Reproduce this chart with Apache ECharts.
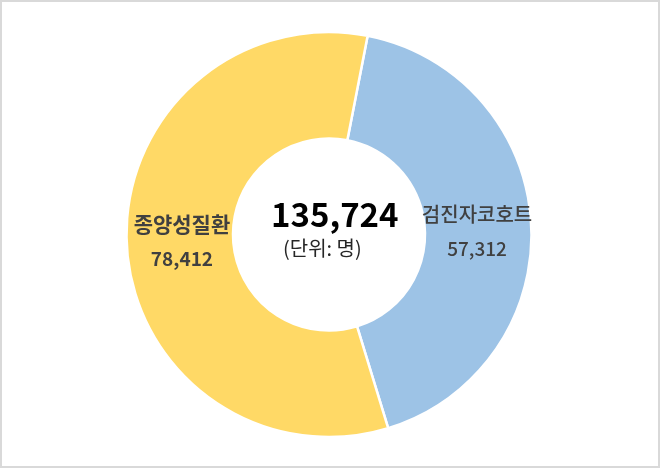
<!DOCTYPE html>
<html>
<head>
<meta charset="utf-8">
<script src="https://cdn.jsdelivr.net/npm/echarts@6/dist/echarts.min.js"></script>
<style>
  html, body { margin: 0; padding: 0; background: #fff; }
  #chart0 { width: 660px; height: 468px; box-sizing: border-box; border: 2px solid #d9d9d9; }
</style>
</head>
<body>
<div id="chart0"></div>
<script>
var categories = ['검진자코호트', '종양성질환'];
var values = [57312, 78412];
var colors = ['#9dc3e6', '#ffd966'];
var weights = [500, 'bold'];
var nameSizes = [20, 21];
var labelShift = [[-4, 5], [5, -1]];
var totalLabel = '135,724';
var unitLabel = '(단위: 명)';

var fmt = function (n) {
    return String(n).replace(/\B(?=(\d{3})+(?!\d))/g, ',');
};

var font = '"Noto Sans CJK KR", "Noto Sans", sans-serif';

var data = categories.map(function (name, i) {
    return {
        name: name,
        value: values[i],
        itemStyle: { color: colors[i] },
        label: {
            offset: labelShift[i],
            rich: {
                n: { fontSize: nameSizes[i], fontWeight: weights[i], color: '#404040', fontFamily: font, lineHeight: 35 },
                v: { fontSize: 19, fontWeight: weights[i], color: '#404040', fontFamily: font, lineHeight: 35 }
            }
        }
    };
});

var chart0 = echarts.init(document.getElementById('chart0'));
var option = {
    animation: false,
    graphic: [
        {
            type: 'text',
            left: 271 - 2,
            top: 198 - 2,
            style: {
                text: totalLabel,
                font: 'bold 33px ' + font,
                fill: '#000'
            }
        },
        {
            type: 'text',
            left: 283 - 2,
            top: 238 - 2,
            style: {
                text: unitLabel,
                font: '20px ' + font,
                fill: '#262626'
            }
        }
    ],
    series: [
        {
            name: 'Cohort',
            type: 'pie',
            center: [327, 232.5],
            radius: [96, 202.5],
            startAngle: 79,
            clockwise: true,
            data: data,
            itemStyle: {
                borderColor: '#fff',
                borderWidth: 2.5
            },
            label: {
                show: true,
                position: 'inside',
                formatter: function (p) {
                    return '{n|' + p.name + '}\n{v|' + fmt(p.value) + '}';
                }
            },
            labelLine: { show: false },
            emphasis: { disabled: true }
        }
    ]
};
chart0.setOption(option);
</script>
</body>
</html>
